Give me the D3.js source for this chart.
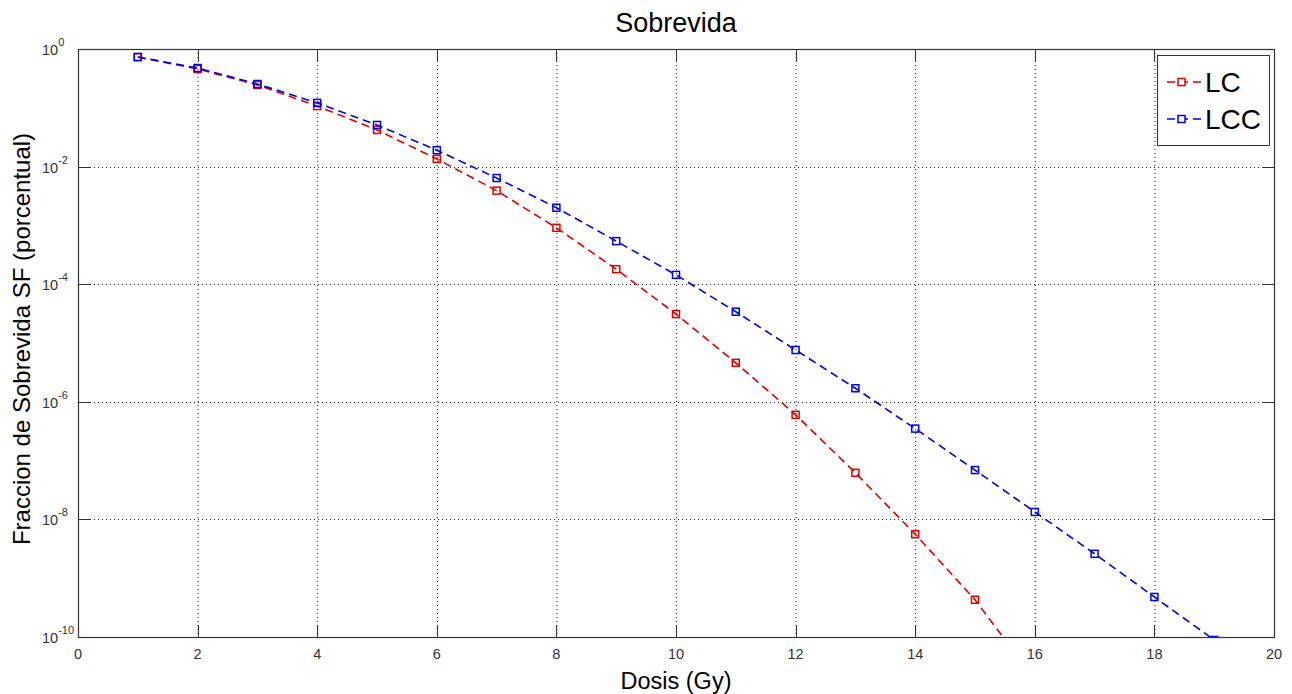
<!DOCTYPE html>
<html>
<head>
<meta charset="utf-8">
<script src="https://cdn.jsdelivr.net/npm/d3@7"></script>
<style>
  body { margin: 0; background: #fff; }
  text { font-family: "Liberation Sans", Arial, sans-serif; }
</style>
</head>
<body>
<div id="chart"></div>
<script>
var svgWidth = 1292;
var svgHeight = 694;

var leftMargin = 78;
var topMargin = 49;
var chartWidth = 1196;
var chartHeight = 588;

// data
var dosis = [1, 2, 3, 4, 5, 6, 7, 8, 9, 10, 11, 12, 13, 14, 15, 16, 17, 18, 19];
var lcValues = [0.73, 0.457, 0.245, 0.107, 0.042, 0.0135, 3.9e-3, 9.1e-4, 1.8e-4, 3.1e-5,
                4.6e-6, 6.0e-7, 6.2e-8, 5.6e-9, 4.3e-10, 1.9e-11];
var lccValues = [0.73, 0.475, 0.254, 0.121, 0.051, 0.019, 6.4e-3, 2.0e-3, 5.4e-4, 1.44e-4,
                 3.4e-5, 7.6e-6, 1.7e-6, 3.5e-7, 6.9e-8, 1.34e-8, 2.6e-9, 4.8e-10, 8.9e-11];
var seriesNames = ['LC', 'LCC'];
var seriesColors = ['#e00000', '#0000e6'];
var xTicks = [0, 2, 4, 6, 8, 10, 12, 14, 16, 18, 20];
var yExponents = [0, -2, -4, -6, -8, -10];

var series = [lcValues, lccValues].map(function(vals, i) {
    return {
        name: seriesNames[i],
        color: seriesColors[i],
        points: vals.map(function(v, j) { return {x: dosis[j], y: v}; })
    };
});

var x = d3.scaleLinear().domain([0, 20]).range([0, chartWidth]);
var y = d3.scaleLog().domain([1e-10, 1]).range([chartHeight, 0]);

var svg = d3.select('#chart')
    .append('svg')
    .attr('width', svgWidth)
    .attr('height', svgHeight);

svg.append('defs').append('clipPath')
    .attr('id', 'plot-clip')
    .append('rect')
    .attr('width', chartWidth)
    .attr('height', chartHeight);

var chart = svg.append('g')
    .attr('transform', `translate(${leftMargin}, ${topMargin})`);

// grid
chart.selectAll('.vgrid')
    .data(xTicks.slice(1, -1))
    .enter()
    .append('line')
    .attr('x1', d => x(d) + 0.5)
    .attr('x2', d => x(d) + 0.5)
    .attr('y1', 0)
    .attr('y2', chartHeight)
    .attr('stroke', '#222')
    .attr('stroke-width', 1)
    .attr('stroke-dasharray', '1,3');

chart.selectAll('.hgrid')
    .data(yExponents.slice(1, -1))
    .enter()
    .append('line')
    .attr('x1', 0)
    .attr('x2', chartWidth)
    .attr('y1', d => Math.round(y(Math.pow(10, d))) + 0.5)
    .attr('y2', d => Math.round(y(Math.pow(10, d))) + 0.5)
    .attr('stroke', '#222')
    .attr('stroke-width', 1)
    .attr('stroke-dasharray', '1,3');

// ticks (inward, on all four sides)
var tickLen = 12;
xTicks.forEach(function(t) {
    var px = Math.round(x(t)) + 0.5;
    chart.append('line').attr('x1', px).attr('x2', px)
        .attr('y1', chartHeight).attr('y2', chartHeight - tickLen)
        .attr('stroke', '#333');
    chart.append('line').attr('x1', px).attr('x2', px)
        .attr('y1', 0).attr('y2', tickLen)
        .attr('stroke', '#333');
});
yExponents.forEach(function(e) {
    var py = Math.round(y(Math.pow(10, e))) + 0.5;
    chart.append('line').attr('x1', 0).attr('x2', tickLen)
        .attr('y1', py).attr('y2', py)
        .attr('stroke', '#333');
    chart.append('line').attr('x1', chartWidth).attr('x2', chartWidth - tickLen)
        .attr('y1', py).attr('y2', py)
        .attr('stroke', '#333');
});

// frame
chart.append('rect')
    .attr('x', 0.5)
    .attr('y', 0.5)
    .attr('width', chartWidth)
    .attr('height', chartHeight)
    .attr('fill', 'none')
    .attr('stroke', '#333')
    .attr('stroke-width', 1.2);

// tick labels
chart.selectAll('.xlabel')
    .data(xTicks)
    .enter()
    .append('text')
    .attr('x', d => x(d))
    .attr('y', chartHeight + 22)
    .attr('text-anchor', 'middle')
    .attr('font-size', 14.5)
    .attr('fill', '#333')
    .text(d => d);

var yLab = chart.selectAll('.ylabel')
    .data(yExponents)
    .enter()
    .append('text')
    .attr('x', -36)
    .attr('y', d => y(Math.pow(10, d)) + 6)
    .attr('font-size', 14.5)
    .attr('fill', '#333');
yLab.append('tspan').text('10');
yLab.append('tspan')
    .attr('dy', -9)
    .attr('font-size', 11)
    .text(d => d === 0 ? '0' : String(d));

// series
var line = d3.line()
    .x(d => x(d.x))
    .y(d => y(d.y));

var plot = chart.append('g').attr('clip-path', 'url(#plot-clip)');

series.forEach(function(s) {
    plot.append('path')
        .datum(s.points)
        .attr('d', line)
        .attr('fill', 'none')
        .attr('stroke', s.color)
        .attr('stroke-width', 1.6)
        .attr('stroke-dasharray', '8,5');

    plot.selectAll('.m-' + s.name)
        .data(s.points)
        .enter()
        .append('rect')
        .attr('x', d => x(d.x) - 3.5)
        .attr('y', d => y(d.y) - 3.5)
        .attr('width', 7)
        .attr('height', 7)
        .attr('fill', 'none')
        .attr('stroke', s.color)
        .attr('stroke-width', 1.5);
});

// title and axis labels
svg.append('text')
    .attr('x', leftMargin + chartWidth / 2)
    .attr('y', 32)
    .attr('text-anchor', 'middle')
    .attr('font-size', 27)
    .text('Sobrevida');

svg.append('text')
    .attr('x', leftMargin + chartWidth / 2)
    .attr('y', 689)
    .attr('text-anchor', 'middle')
    .attr('font-size', 23.5)
    .text('Dosis (Gy)');

svg.append('text')
    .attr('transform', `translate(30, ${topMargin + chartHeight / 2 - 4}) rotate(-90)`)
    .attr('text-anchor', 'middle')
    .attr('font-size', 24)
    .text('Fraccion de Sobrevida SF (porcentual)');

// legend
var legend = svg.append('g')
    .attr('transform', 'translate(1157, 55)');

legend.append('rect')
    .attr('x', 0.5)
    .attr('y', 0.5)
    .attr('width', 112)
    .attr('height', 90)
    .attr('fill', '#fff')
    .attr('stroke', '#333');

series.forEach(function(s, i) {
    var ly = 27 + i * 37;
    legend.append('line')
        .attr('x1', 10).attr('x2', 45)
        .attr('y1', ly).attr('y2', ly)
        .attr('stroke', s.color)
        .attr('stroke-width', 1.6)
        .attr('stroke-dasharray', '8,5');
    legend.append('rect')
        .attr('x', 21).attr('y', ly - 3.5)
        .attr('width', 7).attr('height', 7)
        .attr('fill', '#fff')
        .attr('stroke', s.color)
        .attr('stroke-width', 1.5);
    legend.append('text')
        .attr('x', 48)
        .attr('y', ly + 10)
        .attr('font-size', 28)
        .text(s.name);
});
</script>
</body>
</html>
